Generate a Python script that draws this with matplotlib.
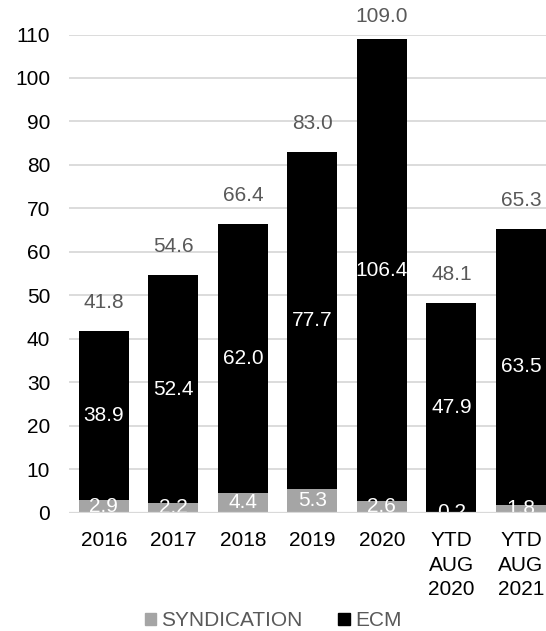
import numpy as np
import matplotlib.pyplot as plt
from matplotlib.patches import Patch

plt.rcParams['font.family'] = ['Liberation Sans', 'DejaVu Sans']

# values
categories = ['2016', '2017', '2018', '2019', '2020', 'YTD\nAUG\n2020', 'YTD\nAUG\n2021']
syndication = [2.9, 2.2, 4.4, 5.3, 2.6, 0.2, 1.8]
ecm = [38.9, 52.4, 62.0, 77.7, 106.4, 47.9, 63.5]
totals = [41.8, 54.6, 66.4, 83.0, 109.0, 48.1, 65.3]

grey = '#A5A5A5'
label_grey = '#595959'
grid_grey = '#D9D9D9'
fs = 15

fig = plt.figure(figsize=(5.46, 6.31), dpi=100)
ax = fig.add_axes([69 / 546, 118.5 / 631, 1 - 69 / 546, 478 / 631])

x = np.arange(len(categories))
syn = np.array(syndication)
ec = np.array(ecm)

ax.bar(x, syn, width=0.72, color=grey, zorder=2)
ax.bar(x, ec, width=0.72, bottom=syn, color='black', zorder=2)

# white labels in the middle of each segment
for i in range(len(x)):
    ax.text(x[i], syn[i] / 2, f'{syn[i]:.1f}', color='white', fontsize=fs,
            ha='center', va='center', zorder=3)
    ax.text(x[i], syn[i] + ec[i] / 2, f'{ec[i]:.1f}', color='white', fontsize=fs,
            ha='center', va='center', zorder=3)
    ty = min(totals[i] + 6.6, 114.1)
    ax.text(x[i], ty, f'{totals[i]:.1f}', color=label_grey, fontsize=fs,
            ha='center', va='center', clip_on=False, zorder=3)

ax.axhline(0, color=grid_grey, lw=1.6, zorder=4)

ax.set_ylim(0, 110)
ax.set_xlim(-0.5, 6.36)
ax.set_yticks(np.arange(0, 111, 10))
ax.set_xticks(x)
ax.set_xticklabels(categories, linespacing=1.36)
ax.tick_params(axis='both', length=0, labelsize=fs)
ax.tick_params(axis='y', pad=13.5)
ax.tick_params(axis='x', pad=13.5)
ax.yaxis.grid(True, color=grid_grey, lw=1.3, zorder=0)
ax.set_axisbelow(True)
for s in ax.spines.values():
    s.set_visible(False)

handles = [Patch(color=grey, label='SYNDICATION'), Patch(color='black', label='ECM')]
fig.legend(handles=handles, loc='center', bbox_to_anchor=(0.5, 1 - 621 / 631), ncol=2,
           frameon=False, fontsize=fs, handlelength=0.55, handleheight=0.55,
           handletextpad=0.25, columnspacing=1.7, labelcolor=label_grey)

plt.savefig('out.png', dpi=100)
